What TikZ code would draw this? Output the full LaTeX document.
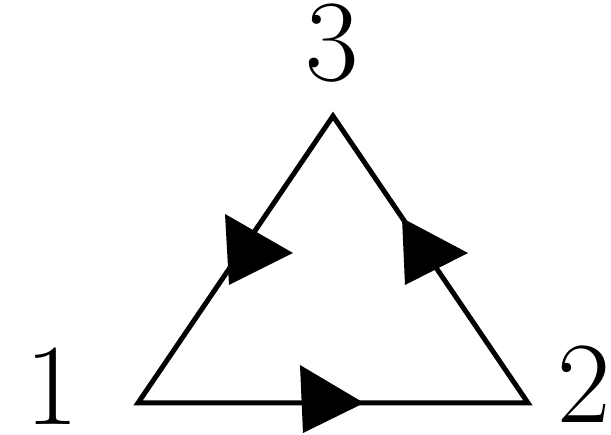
\documentclass[tikz,border=0pt]{standalone}
\begin{document}
\begin{tikzpicture}[x=1pt,y=-1pt,
  edge/.style={line width=5pt,line join=miter},
  headfill/.style={fill=black},
  lbl/.style={font=\fontsize{116}{130}\selectfont,inner sep=0pt}]
\useasboundingbox (0,0) rectangle (611,435);
\coordinate (v1) at (138,403);
\coordinate (v2) at (528,403);
\coordinate (v3) at (333,116);
\draw[edge] (v1) -- (v2) -- (v3) -- cycle;
\node[lbl,anchor=base] (l1) at (52,425) {1};
\node[lbl,anchor=base] (l2) at (584,423) {2};
\node[lbl,anchor=base] (l3) at (332,81) {3};
% arrowheads
\fill[headfill] (225,214) -- (229,285) -- (293,253) -- cycle;
\fill[headfill] (402,218) -- (405,285) -- (468,253) -- cycle;
\fill[headfill] (300,365) -- (303,433) -- (364,403) -- cycle;
\end{tikzpicture}
\end{document}
